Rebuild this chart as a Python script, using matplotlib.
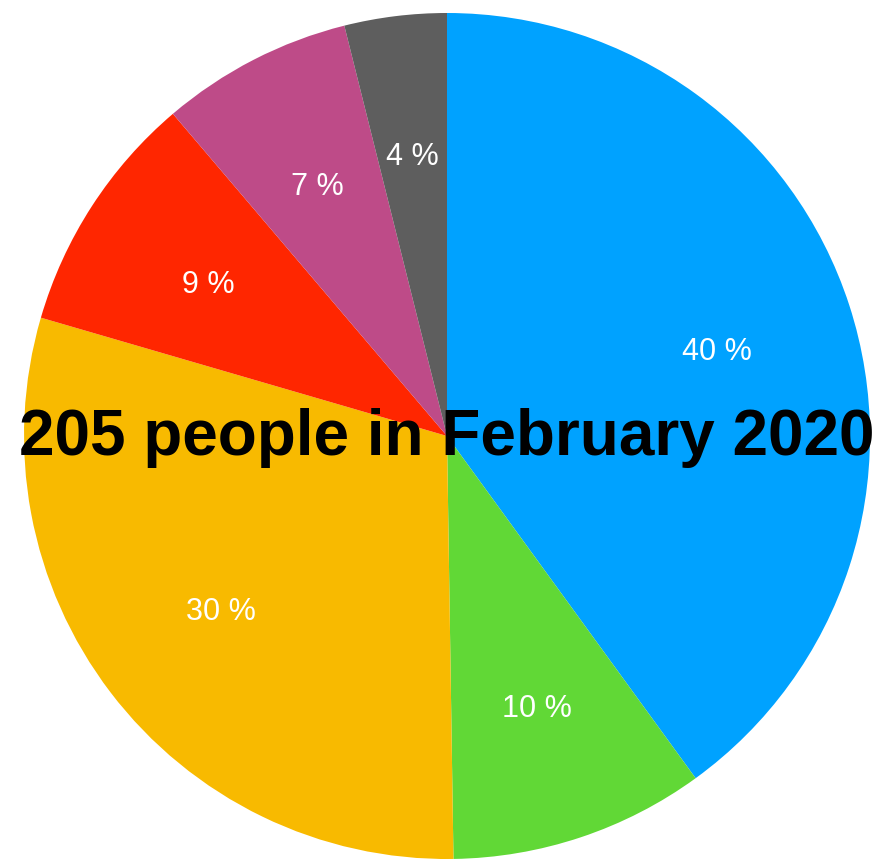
import matplotlib.pyplot as plt

# head counts out of 205, clockwise from 12 o'clock
counts = [82, 20, 61, 19, 15, 8]
colors = ['#00A2FF', '#61D836', '#F8BA00', '#FF2600', '#BE4B88', '#5E5E5E']
title = '205 people in February 2020'

fig = plt.figure(figsize=(8.78, 8.59), dpi=100)
# pie centre at (447, 436) px from top-left, radius 423 px
ax = fig.add_axes([(447 - 423) / 878, (859 - 436 - 423) / 859, 846 / 878, 846 / 859])

wedges, texts, autotexts = ax.pie(
    counts, colors=colors, startangle=90, counterclock=False,
    autopct=lambda p: f'{p:.0f} %', pctdistance=0.672,
    wedgeprops=dict(linewidth=0),
    textprops=dict(color='white', fontsize=22, family='Liberation Sans'))
for t in autotexts:
    t.set_va('center_baseline')
ax.set_xlim(-1, 1)
ax.set_ylim(-1, 1)

ax.text(0, -0.005, title, ha='center', va='center', fontsize=46,
        fontweight='bold', family='Liberation Sans', color='black')

fig.savefig('out.png', dpi=100)
